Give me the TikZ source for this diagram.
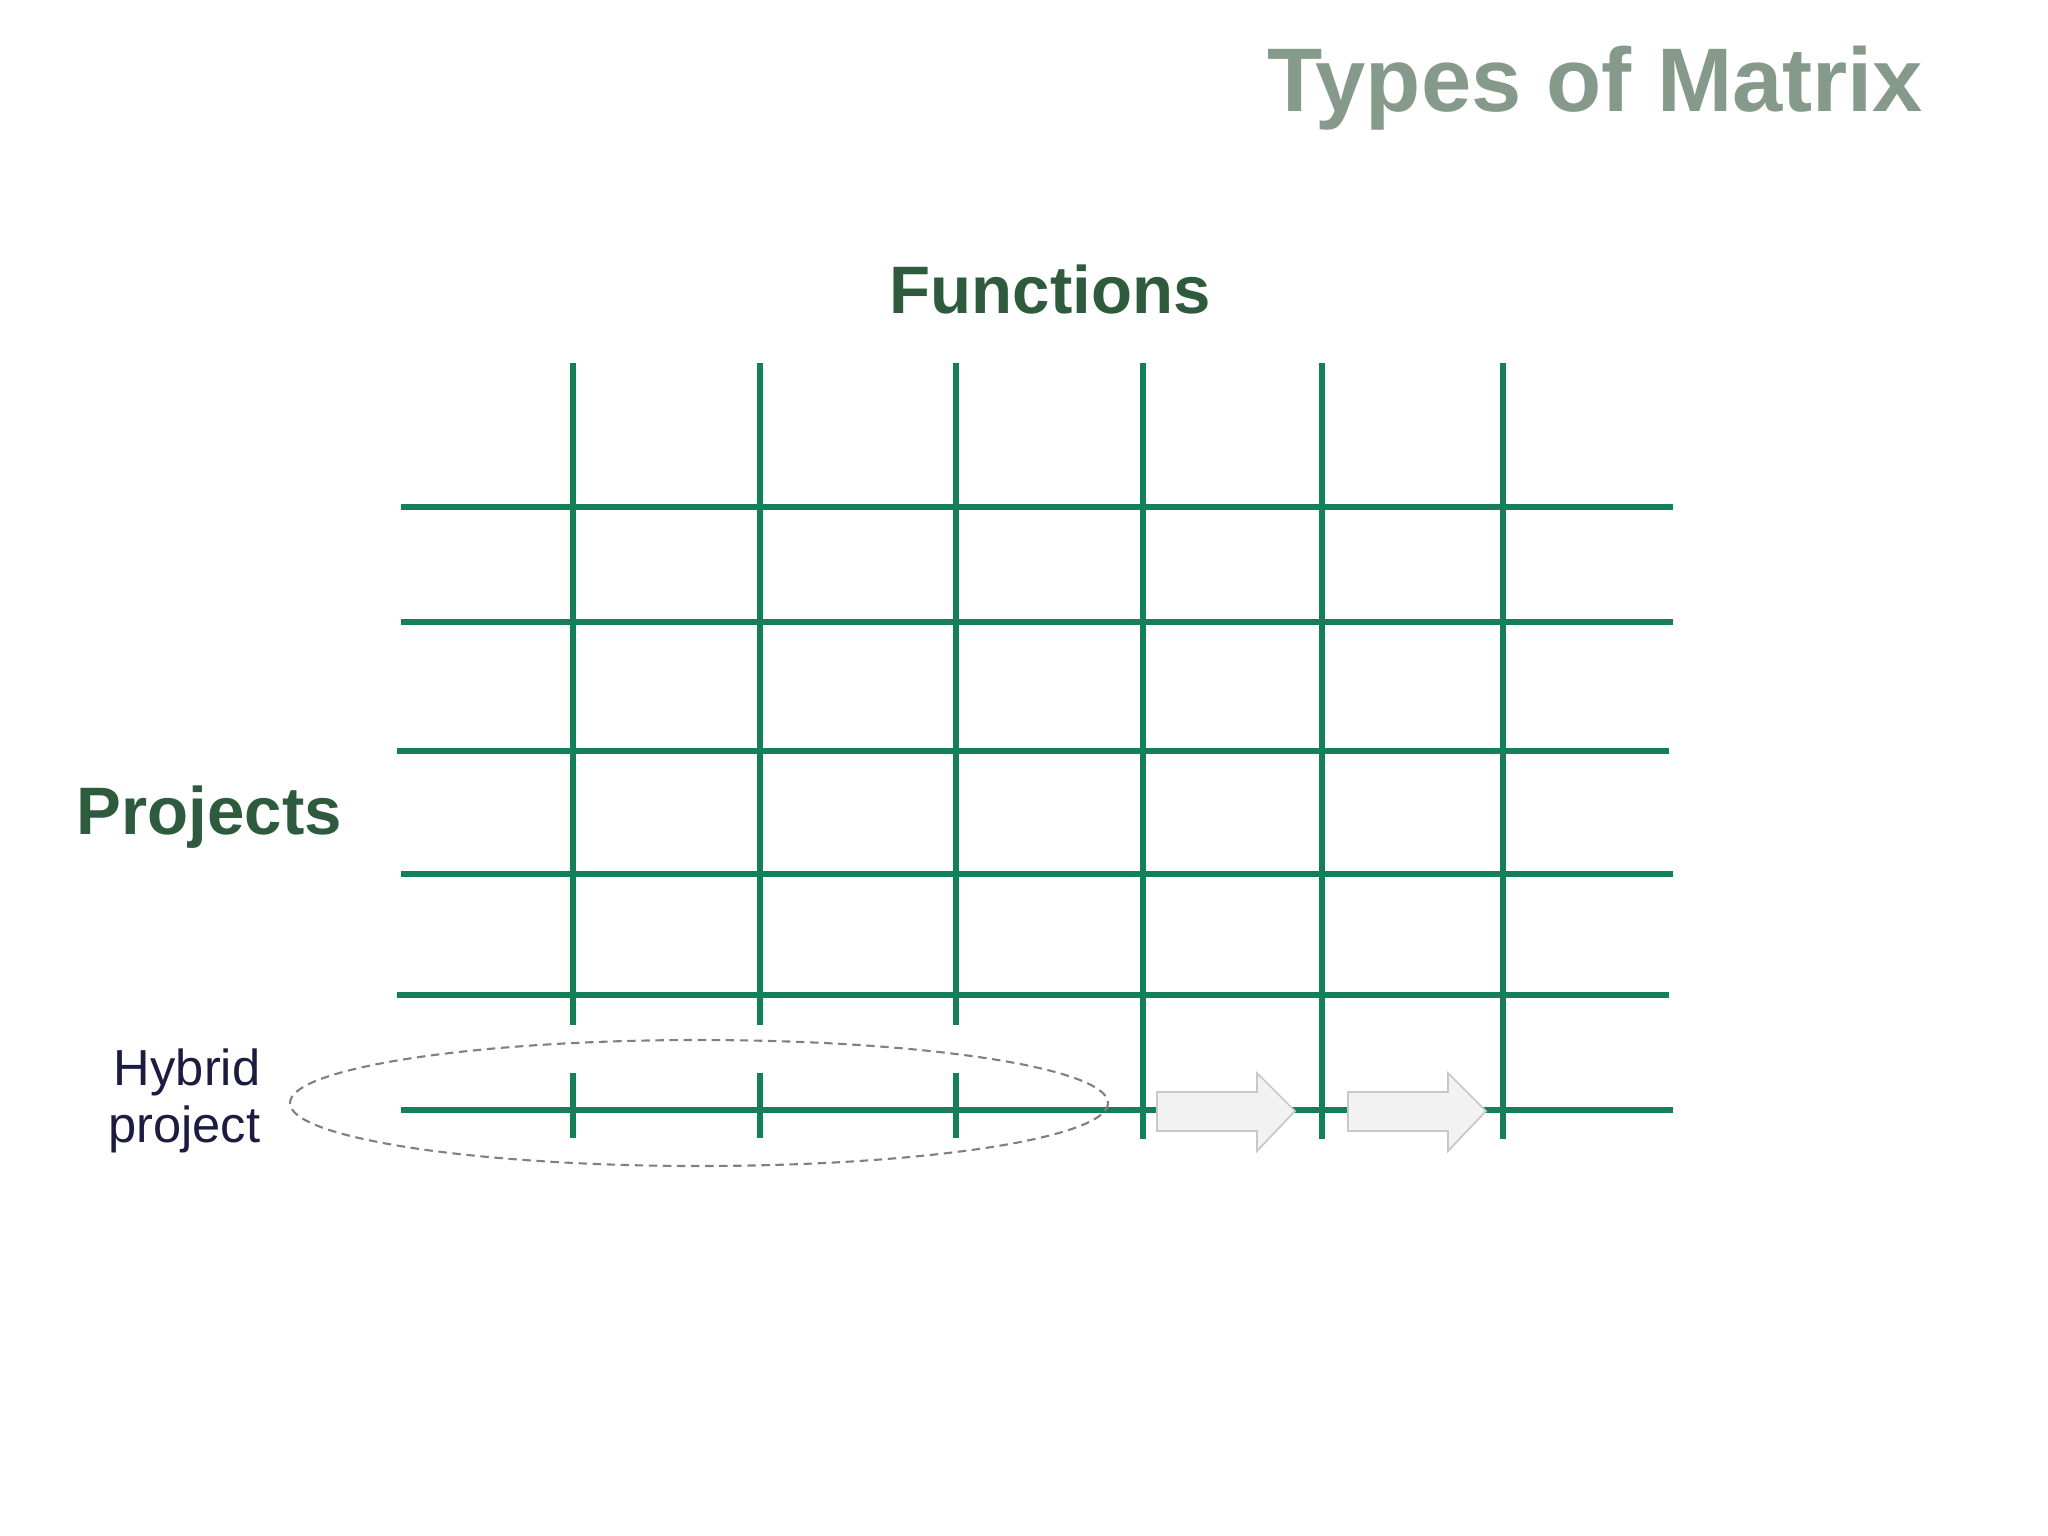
\documentclass[tikz,border=0pt]{standalone}
\usepackage{fontspec}
\setmainfont{Liberation Sans}
\definecolor{titlegray}{HTML}{869A8C}
\definecolor{headgreen}{HTML}{2E5A3E}
\definecolor{gridgreen}{HTML}{14805A}
\definecolor{hybridnavy}{HTML}{1C1C40}
\definecolor{arrowfill}{HTML}{F2F2F2}
\definecolor{arrowline}{HTML}{C8C8C8}

\begin{document}
\begin{tikzpicture}[x=0.01cm, y=-0.01cm,
	gridline/.style = {gridgreen, line width=1.45pt},
	headtext/.style = {headgreen, inner sep=0pt, font=\fontsize{19.1pt}{22pt}\selectfont\bfseries},
	movearrow/.style = {fill=arrowfill, draw=arrowline, line width=0.5pt}]
	\useasboundingbox (0,0) rectangle (2048,1536);
	\node [titlegray, inner sep=0pt, anchor=base east, font=\fontsize{25.7pt}{30pt}\selectfont\bfseries] (title) at (1924,111) {Types of Matrix};
	\node [headtext, anchor=base west] (functions) at (889,313) {Functions};
	\node [headtext, anchor=base west] (projects) at (76,834) {Projects};
	\node [hybridnavy, inner sep=0pt, anchor=east, align=right, font=\fontsize{14.4pt}{16.3pt}\selectfont] (hybrid) at (261,1101) {Hybrid\\project};
	% rows
	\foreach \y in {507,622,874,1110} \draw [gridline] (401,\y) -- (1673,\y);
	\foreach \y in {751,995} \draw [gridline] (397,\y) -- (1669,\y);
	% functions
	\foreach \x in {573,760,956} {
		\draw [gridline] (\x,363) -- (\x,1025);
		\draw [gridline] (\x,1073) -- (\x,1138);
	}
	\foreach \x in {1143,1322,1503} \draw [gridline] (\x,363) -- (\x,1139);
	% hybrid row
	\draw [gray, line width=0.6pt, dash pattern = on 2.4pt off 1.6pt] (699,1103) ellipse (409 and 63);
	\foreach \dx in {0,191}
		\draw [movearrow] (1157+\dx,1092) -- (1257+\dx,1092) -- (1257+\dx,1073) -- (1295+\dx,1111) -- (1257+\dx,1151) -- (1257+\dx,1131) -- (1157+\dx,1131) -- cycle;
\end{tikzpicture}
\end{document}
